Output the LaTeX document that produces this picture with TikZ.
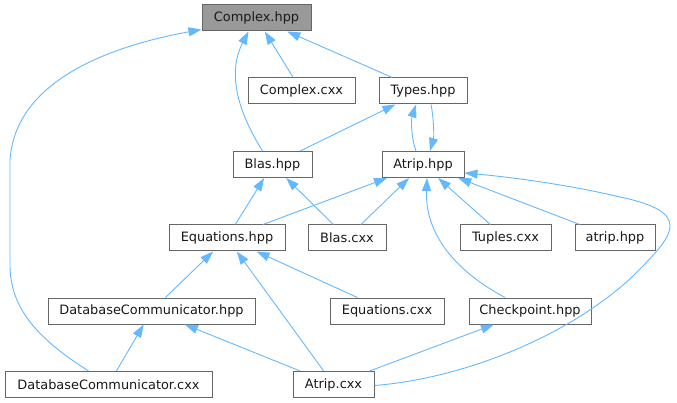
\documentclass[tikz,border=0pt]{standalone}
\usepackage{fontspec}
\setmainfont{DejaVu Sans}
\usetikzlibrary{arrows.meta,calc}
\definecolor{edgecol}{HTML}{63B8FF}
\definecolor{bordcol}{HTML}{666666}
\definecolor{fillgray}{HTML}{999999}
\begin{document}
\begin{tikzpicture}[x=1pt,y=-1pt,
  box/.style={draw=bordcol, line width=1pt, fill=white, minimum height=26pt,
    inner sep=0pt, font=\fontsize{12.9}{14}\selectfont, text=black!90},
  dep/.style={draw=edgecol, line width=0.9pt, -{Triangle[length=13pt,width=9pt]}}]
\useasboundingbox (0,0) rectangle (677,403);

\node[box, fill=fillgray, minimum width=109pt] (cplxh) at (256.5,18) {Complex.hpp};
\node[box, minimum width=107pt] (cplxc) at (301.5,91) {Complex.cxx};
\node[box, minimum width=88pt] (types) at (423,91) {Types.hpp};
\node[box, minimum width=79pt] (blash) at (272.5,164.5) {Blas.hpp};
\node[box, minimum width=82pt] (atriph) at (423,164.5) {Atrip.hpp};
\node[box, minimum width=116pt] (eqh) at (227,238) {Equations.hpp};
\node[box, minimum width=78pt] (blasc) at (347,238) {Blas.cxx};
\node[box, minimum width=91pt] (tuples) at (505.5,238) {Tuples.cxx};
\node[box, minimum width=80pt] (atripl) at (615,238) {atrip.hpp};
\node[box, minimum width=207pt] (dbh) at (151.5,311) {DatabaseCommunicator.hpp};
\node[box, minimum width=114pt] (eqc) at (387,311) {Equations.cxx};
\node[box, minimum width=122pt] (chk) at (530,311) {Checkpoint.hpp};
\node[box, minimum width=207pt] (dbc) at (108.5,384.5) {DatabaseCommunicator.cxx};
\node[box, minimum width=81pt] (atripc) at (333.5,384.5) {Atrip.cxx};

% edges to Complex.hpp
\draw[dep] ($(dbc.north)+(-20,0)$) .. controls (40,340) and (10,310) .. (10,265)
  -- (10,160) .. controls (15,85) and (100,48) .. ($(cplxh.south west)+(0,-2)$);
\draw[dep] ($(blash.north)+(-10,0)$) .. controls (240,115) and (226,75) .. ($(cplxh.south)+(-8,0)$);
\draw[dep] (cplxc) -- (cplxh);
\draw[dep] (types) -- (cplxh);

% edges to Types.hpp
\draw[dep] (blash) -- (types);
\draw[dep] ($(atriph.north)+(-7,0)$) .. controls (411,137) and (411,120) .. ($(types.south)+(-7,0)$);

% edges to Atrip.hpp
\draw[dep] ($(types.south)+(8,0)$) .. controls (434,120) and (434,137) .. ($(atriph.north)+(7,0)$);
\draw[dep] (eqh) -- (atriph);
\draw[dep] (blasc) -- (atriph);
\draw[dep] (tuples) -- (atriph);
\draw[dep] (atripl) -- (atriph);
\draw[dep] ($(chk.north)+(-25,0)$) .. controls (450,268) and (425,230) .. ($(atriph.south)+(4,0)$);
\draw[dep] ($(atripc.east)+(0,1)$) .. controls (470,378) and (582,330) .. (642,267)
  .. controls (674,234) and (692,212) .. (620,197)
  .. controls (570,185) and (510,177) .. ($(atriph.south east)+(0,-5)$);

% edges to Blas.hpp
\draw[dep] (eqh) -- (blash);
\draw[dep] (blasc) -- (blash);

% edges to Equations.hpp
\draw[dep] (dbh) -- (eqh);
\draw[dep] (atripc) -- (eqh);
\draw[dep] (eqc) -- (eqh);

% edges to DatabaseCommunicator.hpp
\draw[dep] (dbc) -- (dbh);
\draw[dep] (atripc) -- (dbh);

% edges to Checkpoint.hpp
\draw[dep] (atripc) -- (chk);
\end{tikzpicture}
\end{document}
